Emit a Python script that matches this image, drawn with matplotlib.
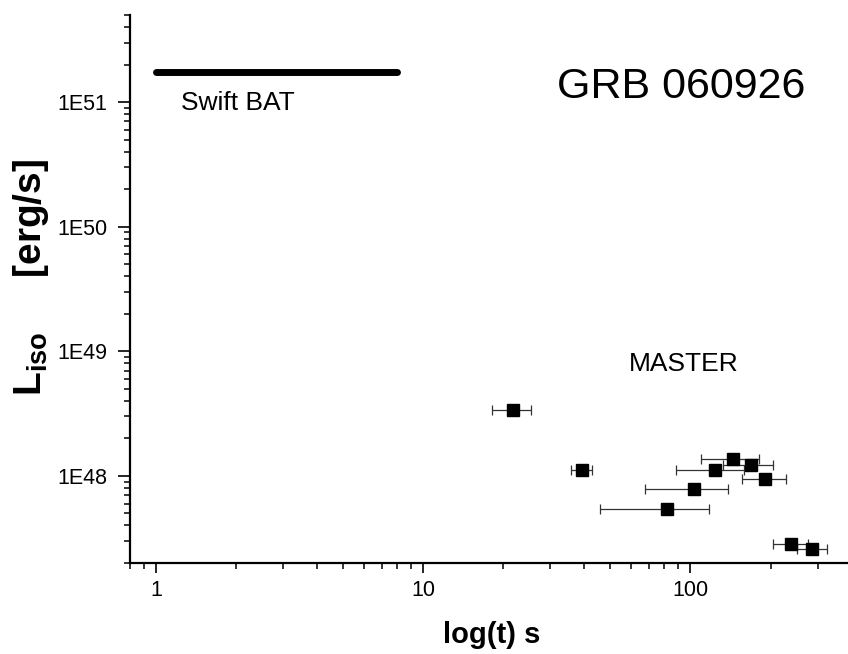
import matplotlib
matplotlib.use('Agg')
import matplotlib.pyplot as plt
from matplotlib.ticker import FixedLocator, FixedFormatter, NullFormatter
import numpy as np

plt.rcParams['font.family'] = ['Liberation Sans', 'DejaVu Sans']
plt.rcParams['mathtext.fontset'] = 'custom'
plt.rcParams['mathtext.rm'] = 'Liberation Sans'
plt.rcParams['mathtext.bf'] = 'Liberation Sans:bold'

# MASTER points (time in s, luminosity in erg/s)
t_master = [21.7, 39.3, 82.2, 103.2, 124.1, 145.3, 169.2, 191.0, 239.5, 287.0]
t_lo = [18.2, 35.8, 46.0, 67.6, 88.4, 109.6, 133.3, 157.0, 204.0, 251.0]
t_hi = [25.3, 43.1, 118.0, 139.0, 159.7, 180.8, 205.0, 228.0, 277.0, 325.0]
L_master = [3.38e48, 1.12e48, 5.4e47, 7.8e47, 1.12e48, 1.36e48, 1.23e48, 9.4e47, 2.85e47, 2.6e47]

# Swift BAT interval
t_bat = [1, 8]
L_bat = [1.74e51, 1.74e51]

x_ticks = [1, 10, 100]
x_labels = ['1', '10', '100']
y_ticks = [1e48, 1e49, 1e50, 1e51]
y_labels = ['1E48', '1E49', '1E50', '1E51']

fig = plt.figure(figsize=(8.48, 6.54), dpi=100)
ax = fig.add_axes([130/848, 91/654, 718/848, 548/654])

t_master = np.array(t_master)
xerr = [t_master - np.array(t_lo), np.array(t_hi) - t_master]
ax.errorbar(t_master, L_master, xerr=xerr, fmt='s', color='black', ms=9,
            ecolor='#333333', elinewidth=0.9, capsize=3.6, capthick=0.9)

ax.plot(t_bat, L_bat, color='black', lw=5, solid_capstyle='round')

ax.set_xscale('log')
ax.set_yscale('log')
ax.set_xlim(0.8, 390)
ax.set_ylim(2e47, 5e51)

ax.xaxis.set_major_locator(FixedLocator(x_ticks))
ax.xaxis.set_major_formatter(FixedFormatter(x_labels))
ax.xaxis.set_minor_locator(FixedLocator([k * 10.0**e for e in range(-1, 3) for k in range(2, 10)]))
ax.xaxis.set_minor_formatter(NullFormatter())
ax.yaxis.set_major_locator(FixedLocator(y_ticks))
ax.yaxis.set_major_formatter(FixedFormatter(y_labels))
ax.yaxis.set_minor_locator(FixedLocator([k * 10.0**e for e in range(47, 52) for k in range(2, 10)]))
ax.yaxis.set_minor_formatter(NullFormatter())

for s in ['top', 'right']:
    ax.spines[s].set_visible(False)
for s in ['left', 'bottom']:
    ax.spines[s].set_linewidth(1.6)

ax.tick_params(axis='x', which='major', direction='out', length=7.5, width=1.2, labelsize=15.5, pad=5)
ax.tick_params(axis='y', which='major', direction='out', length=8.5, width=1.2, labelsize=15.5, pad=8)
ax.tick_params(axis='x', which='minor', direction='out', length=4, width=1.1)
ax.tick_params(axis='y', which='minor', direction='out', length=4.5, width=1.1)

ax.text(0.071, 0.839, 'Swift BAT', transform=ax.transAxes, fontsize=19, ha='left', va='center')
ax.text(0.595, 0.869, 'GRB 060926', transform=ax.transAxes, fontsize=31, ha='left', va='center')
ax.text(0.695, 0.364, 'MASTER', transform=ax.transAxes, fontsize=19, ha='left', va='center')

fig.text(492/848, 1 - 635/654, 'log(t) s', fontsize=21, fontweight='bold', ha='center', va='center')
fig.text(31/848, 1 - 277/654, r'$\mathbf{L_{iso}}$     [erg/s]', fontsize=28, fontweight='bold',
         ha='center', va='center', rotation=90)

fig.savefig('out.png', dpi=100)
